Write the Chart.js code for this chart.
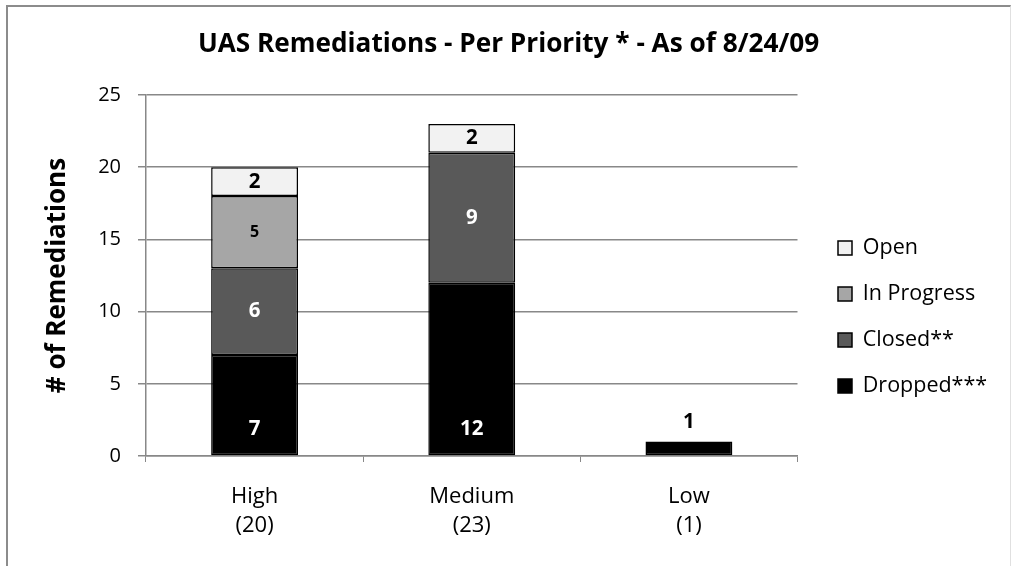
<!DOCTYPE html>
<html lang="en">
<head>
    <meta charset="UTF-8">
    <title>UAS Remediations - Per Priority</title>
    <script src="https://cdn.jsdelivr.net/npm/chart.js"></script>
    <style>
        body { margin: 0; background: #fff; }
        #wrap { position: relative; width: 1012px; height: 566px; overflow: hidden; }
        #frame { position: absolute; left: 6px; top: 5px; width: 1002px; height: 600px;
                 border-left: 2px solid #8c8c8c; border-top: 2px solid #8c8c8c; border-right: 1px solid #e0e0e0;
                 pointer-events: none; }
    </style>
</head>
<body>
    <div id="wrap">
        <canvas id="remChart" width="1012" height="566"></canvas>
        <div id="frame"></div>
    </div>
    <script>
        // data
        const priorities = [['High', '(20)'], ['Medium', '(23)'], ['Low', '(1)']];
        const dropped = [7, 12, 1];
        const closed = [6, 9, 0];
        const inProgress = [5, 0, 0];
        const open = [2, 2, 0];
        const yTicks = [0, 5, 10, 15, 20, 25];

        const FONT = '"Open Sans"';
        const LEGEND_SIZE = 21.5;
        const LEGEND_PAD = 24.5;

        // labels drawn on the bar segments
        const barLabels = {
            id: 'barLabels',
            afterDatasetsDraw(chart) {
                const ctx = chart.ctx;
                ctx.save();
                ctx.textAlign = 'center';
                ctx.textBaseline = 'middle';
                chart.data.datasets.forEach((ds, di) => {
                    const meta = chart.getDatasetMeta(di);
                    meta.data.forEach((bar, i) => {
                        const v = ds.data[i];
                        if (!v) return;
                        const p = bar.getProps(['x', 'y', 'base'], true);
                        const h = p.base - p.y;
                        let y = (p.y + p.base) / 2;
                        let color = ds.labelColor;
                        if (ds.labelPos === 'base') {
                            if (h > 60) {
                                y = p.base - 26;
                            } else {
                                y = p.y - 19;
                                color = '#000';
                            }
                        }
                        ctx.fillStyle = color;
                        ctx.font = 'bold ' + ds.labelSize + 'px ' + FONT;
                        ctx.fillText(String(v), p.x, y);
                    });
                });
                ctx.restore();
            }
        };

        // make the legend start where the reference has it
        const m = document.createElement('canvas').getContext('2d');
        m.font = LEGEND_SIZE + 'px ' + FONT;
        const legendTextW = Math.max(...['Open', 'In Progress', 'Closed**', 'Dropped***'].map(t => m.measureText(t).width));
        const legendW = LEGEND_PAD + 14 + LEGEND_SIZE / 2 + legendTextW + 10;
        const padRight = Math.max(0, 1012 - (838 - LEGEND_PAD) - legendW);

        const ctx = document.getElementById('remChart').getContext('2d');
        new Chart(ctx, {
            type: 'bar',
            data: {
                labels: priorities,
                datasets: [
                    { label: 'Dropped***', data: dropped, backgroundColor: '#000000', labelColor: '#fff', labelSize: 20.5, labelPos: 'base' },
                    { label: 'Closed**', data: closed, backgroundColor: '#595959', labelColor: '#fff', labelSize: 20.5 },
                    { label: 'In Progress', data: inProgress, backgroundColor: '#a6a6a6', labelColor: '#000', labelSize: 16 },
                    { label: 'Open', data: open, backgroundColor: '#f2f2f2', labelColor: '#000', labelSize: 20.5 }
                ].map(d => Object.assign(d, {
                    borderColor: '#000',
                    borderWidth: 1.5,
                    borderSkipped: false,
                    categoryPercentage: 1,
                    barPercentage: 0.4
                }))
            },
            options: {
                responsive: false,
                animation: false,
                layout: { padding: { top: 10, left: 20, right: padRight, bottom: 0 } },
                plugins: {
                    title: {
                        display: true,
                        text: 'UAS Remediations - Per Priority * - As of 8/24/09',
                        color: '#000',
                        font: { family: FONT, size: 26.2, weight: 'bold', lineHeight: 1.2 },
                        padding: { top: 19.3, bottom: 34.3 }
                    },
                    legend: {
                        position: 'right',
                        reverse: true,
                        fullSize: false,
                        maxWidth: 400,
                        title: { display: true, text: '', font: { size: 10, lineHeight: 1 }, padding: { top: 36.5, bottom: 36.5 } },
                        labels: {
                            color: '#000',
                            font: { family: FONT, size: LEGEND_SIZE },
                            boxWidth: 14,
                            boxHeight: 14,
                            padding: LEGEND_PAD
                        }
                    },
                    tooltip: { enabled: false }
                },
                scales: {
                    x: {
                        stacked: true,
                        afterFit: s => { s.height = 110; },
                        grid: { drawOnChartArea: false, color: '#888', tickLength: 6, offset: true },
                        border: { color: '#888', width: 1.5 },
                        ticks: { color: '#000', font: { family: FONT, size: 22, lineHeight: 1.32 }, padding: 20.5 }
                    },
                    y: {
                        stacked: true,
                        min: yTicks[0],
                        max: yTicks[yTicks.length - 1],
                        afterFit: s => { s.width = 126; },
                        afterBuildTicks: s => { s.ticks = yTicks.map(v => ({ value: v })); },
                        title: {
                            display: true,
                            text: '# of Remediations',
                            color: '#000',
                            font: { family: FONT, size: 26, weight: 'bold', lineHeight: 1.2 },
                            padding: { top: 22.4, bottom: 0 }
                        },
                        grid: { color: '#888', tickLength: 8, lineWidth: 1.5 },
                        border: { color: '#888', width: 1.5 },
                        ticks: { color: '#000', font: { family: FONT, size: 20 }, padding: 17 }
                    },
                    gap: {
                        position: 'right',
                        display: true,
                        afterFit: s => { s.width = 16; },
                        grid: { display: false },
                        border: { display: false },
                        ticks: { display: false }
                    }
                }
            },
            plugins: [barLabels]
        });
    </script>
</body>
</html>
